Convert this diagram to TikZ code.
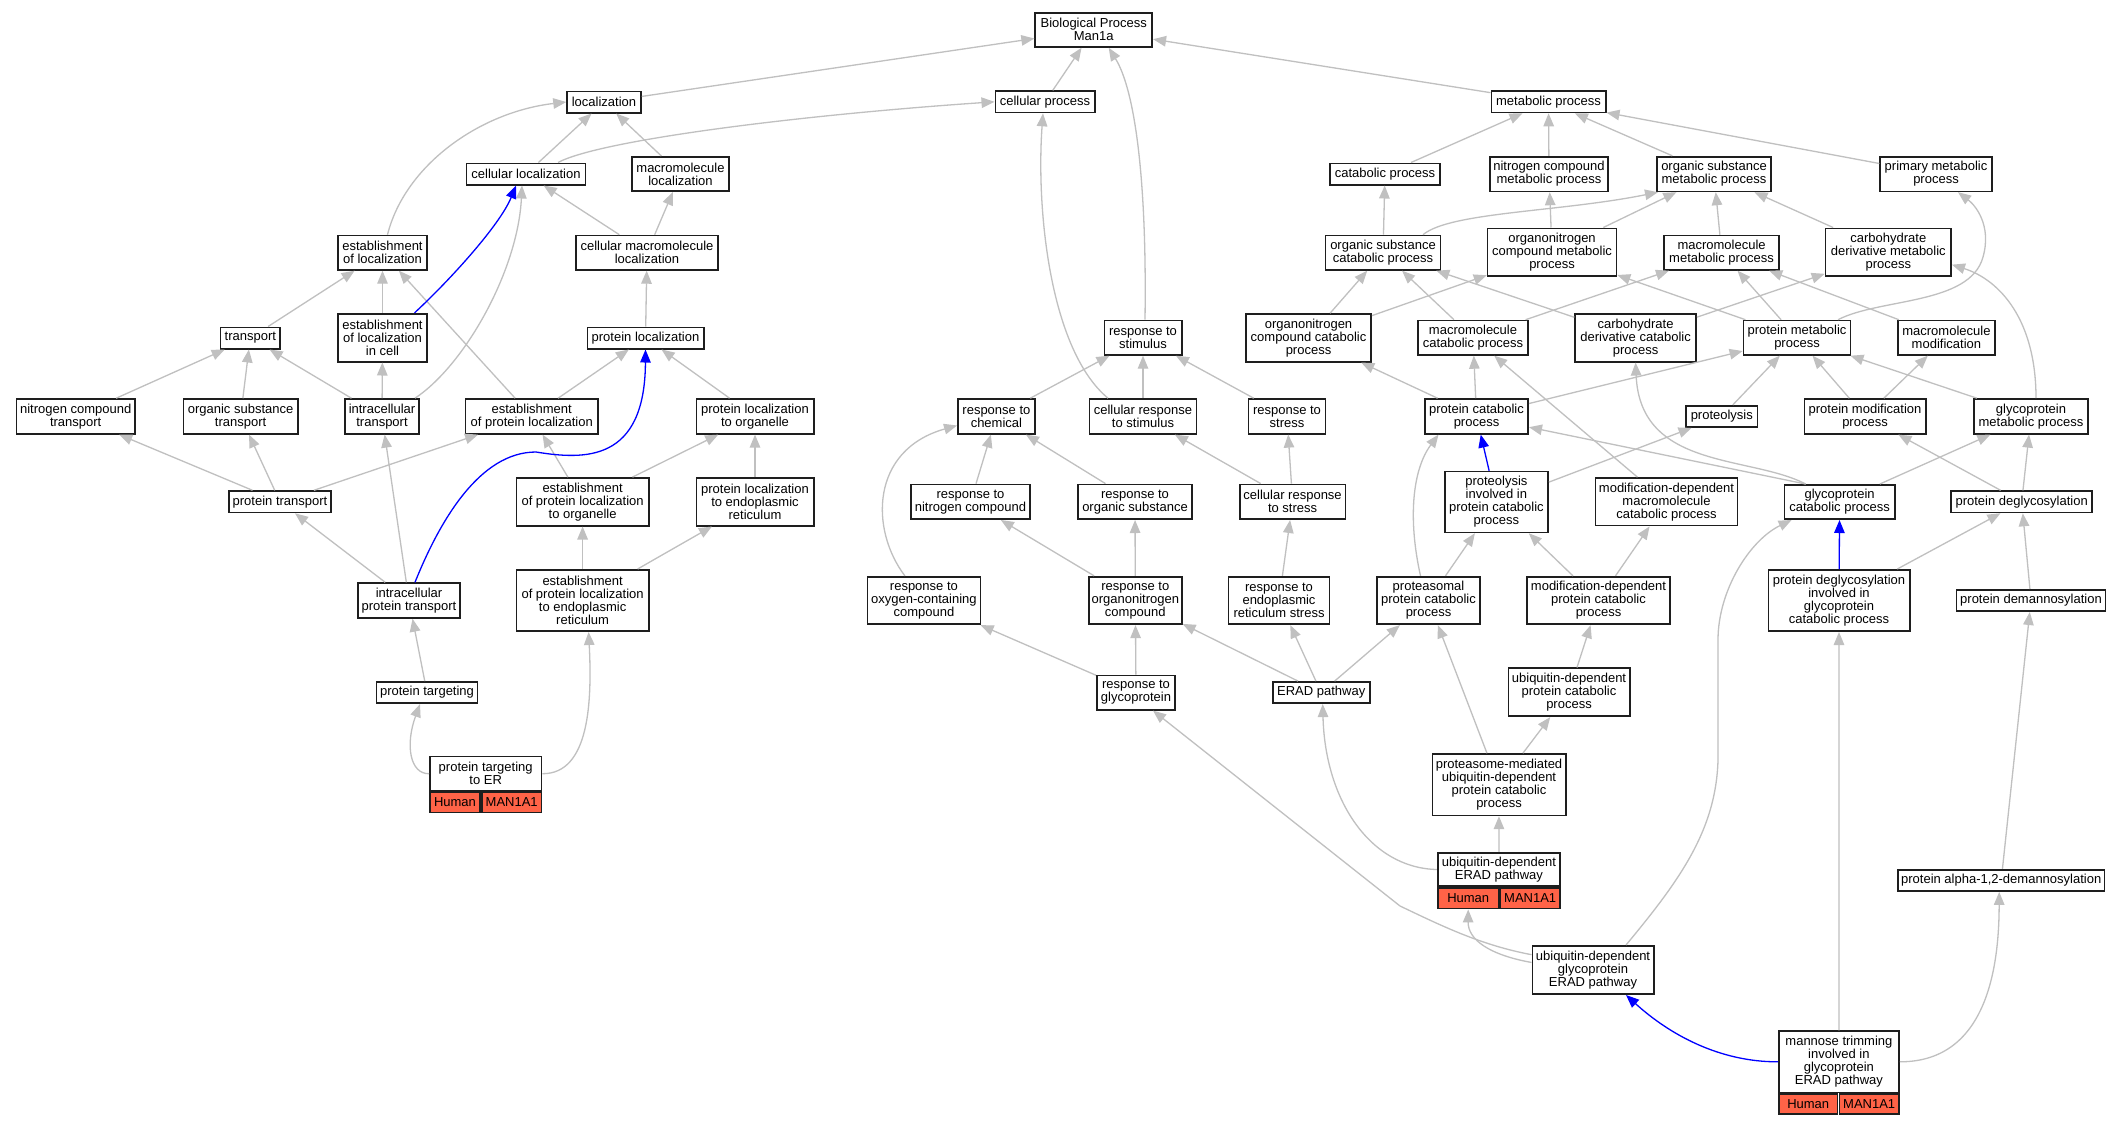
\documentclass[tikz,border=0pt]{standalone}
\usepackage{fontspec}
\setmainfont{Liberation Sans}
\usetikzlibrary{arrows.meta}
\definecolor{edgegray}{RGB}{192,192,192}
\definecolor{cellred}{RGB}{255,99,71}
\definecolor{boxline}{RGB}{30,30,30}
\newcommand\gn[6]{\node[gobox,minimum width={#4pt-1.7pt},minimum height={#5pt-1.7pt}] (#1) at (#2,#3) {#6};}
\newcommand\gc[6]{\node[gcell,minimum width={#4pt-1.7pt},minimum height={#5pt-1.7pt}] (#1) at (#2,#3) {#6};}
\begin{document}
\begin{tikzpicture}[x=1pt,y=-1pt,
  gobox/.style={draw=boxline,line width=1.7pt,fill=white,inner sep=0pt,align=center,font=\fontsize{13pt}{13pt}\selectfont},
  gcell/.style={gobox,fill=cellred},
  gedge/.style={draw=edgegray,line width=1.3pt,-{Triangle[length=13pt,width=10.5pt]}},
  bedge/.style={draw=blue,line width=1.3pt,-{Triangle[length=13pt,width=10.5pt]}}]
\fill[white] (0,0) rectangle (2123,1125);
\useasboundingbox (0,0) rectangle (2123,1125);
% ---- nodes ----
\gn{bp}{1093.7}{29.8}{118.7}{36}{Biological Process\\Man1a}
\gn{loc}{604}{102}{75.5}{23}{localization}
\gn{cproc}{1045}{101.8}{101}{23}{cellular process}
\gn{mproc}{1548.5}{101.8}{116}{23}{metabolic process}
\gn{cloc}{526}{174}{120.6}{23}{cellular localization}
\gn{mloc}{680.5}{174}{99}{36}{macromolecule\\localization}
\gn{catp}{1385}{174}{112}{23}{catabolic process}
\gn{ncmp}{1549}{174}{120.3}{36.4}{nitrogen compound\\metabolic process}
\gn{osmp}{1714}{174}{116}{36.4}{organic substance\\metabolic process}
\gn{pmet}{1936}{174}{113.4}{36.4}{primary metabolic\\process}
\gn{eloc}{382.5}{252.7}{91}{36}{establishment\\of localization}
\gn{cmloc}{647}{252.7}{143.5}{36}{cellular macromolecule\\localization}
\gn{oscp}{1383}{252.7}{116.5}{36}{organic substance\\catabolic process}
\gn{oncmp}{1552}{252.3}{130.5}{49.6}{organonitrogen\\compound metabolic\\process}
\gn{mmp}{1721.6}{252.7}{116.6}{36}{macromolecule\\metabolic process}
\gn{cdmp}{1888.3}{252.3}{127.3}{49.6}{carbohydrate\\derivative metabolic\\process}
\gn{transport}{250.3}{338}{61.4}{23}{transport}
\gn{elic}{382.5}{337.7}{91}{49.6}{establishment\\of localization\\in cell}
\gn{ploc}{645.5}{338}{118}{23}{protein localization}
\gn{rstim}{1143}{337.7}{79}{36}{response to\\stimulus}
\gn{onccp}{1308.5}{337.9}{127}{49.3}{organonitrogen\\compound catabolic\\process}
\gn{mcp}{1473}{337.7}{112}{36}{macromolecule\\catabolic process}
\gn{cdcp}{1635.6}{337.9}{122.6}{49.3}{carbohydrate\\derivative catabolic\\process}
\gn{protmp}{1797}{337.7}{108.8}{36}{protein metabolic\\process}
\gn{mmod}{1946.4}{337.7}{98.7}{36}{macromolecule\\modification}
\gn{nct}{75.7}{416.4}{120}{36.4}{nitrogen compound\\transport}
\gn{ost}{240.6}{416.4}{116}{36.4}{organic substance\\transport}
\gn{itr}{382}{416.4}{76}{36.4}{intracellular\\transport}
\gn{epl}{531.7}{416.4}{134}{36.4}{establishment\\of protein localization}
\gn{plo}{755}{416.4}{119}{36.4}{protein localization\\to organelle}
\gn{rchem}{996.4}{416.4}{78.7}{36.4}{response to\\chemical}
\gn{crstim}{1143}{416.4}{108.5}{36.4}{cellular response\\to stimulus}
\gn{rstress}{1287}{416.4}{78.5}{36.4}{response to\\stress}
\gn{pcp}{1476.5}{416.4}{105}{36.4}{protein catabolic\\process}
\gn{prot}{1721.8}{416.4}{72.8}{23}{proteolysis}
\gn{pmodp}{1865}{416.4}{123}{36.4}{protein modification\\process}
\gn{gmp}{2031}{416.4}{115.7}{36.4}{glycoprotein\\metabolic process}
\gn{ptr}{280}{501.8}{104.3}{23}{protein transport}
\gn{eplo}{582.6}{501.8}{134}{49.4}{establishment\\of protein localization\\to organelle}
\gn{pler}{755}{501.8}{119}{49.4}{protein localization\\to endoplasmic\\reticulum}
\gn{rnc}{970.5}{501.8}{120.5}{36.4}{response to\\nitrogen compound}
\gn{ros}{1135}{501.8}{116}{36.4}{response to\\organic substance}
\gn{crstress}{1292.6}{501.8}{107.6}{36.4}{cellular response\\to stress}
\gn{pipcp}{1496.4}{502}{105}{62.5}{proteolysis\\involved in\\protein catabolic\\process}
\gn{mdmcp}{1666.5}{501.8}{143.8}{49.3}{modification-dependent\\macromolecule\\catabolic process}
\gn{gcp}{1839.6}{502}{112}{36}{glycoprotein\\catabolic process}
\gn{pdg}{2021.7}{501.8}{142.5}{23}{protein deglycosylation}
\gn{ipt}{409}{600.5}{104}{36.4}{intracellular\\protein transport}
\gn{epler}{582.6}{600.5}{134}{63}{establishment\\of protein localization\\to endoplasmic\\reticulum}
\gn{roc}{923.9}{600.5}{114.8}{49.3}{response to\\oxygen-containing\\compound}
\gn{ron}{1135.3}{600.5}{94.6}{49.3}{response to\\organonitrogen\\compound}
\gn{rers}{1279}{600.5}{102.7}{49.3}{response to\\endoplasmic\\reticulum stress}
\gn{ppcp}{1428.5}{600.5}{105}{49.3}{proteasomal\\protein catabolic\\process}
\gn{mdpcp}{1598.5}{600.5}{144.3}{49.3}{modification-dependent\\protein catabolic\\process}
\gn{pdgi}{1839}{600.5}{143}{63}{protein deglycosylation\\involved in\\glycoprotein\\catabolic process}
\gn{pdm}{2031}{600.5}{150.7}{23}{protein demannosylation}
\gn{ptg}{427}{692.6}{102.6}{23}{protein targeting}
\gn{rgp}{1136}{692.6}{80}{36}{response to\\glycoprotein}
\gn{erad}{1321.2}{692.6}{98.6}{23}{ERAD pathway}
\gn{udpcp}{1569}{692.3}{123}{49.7}{ubiquitin-dependent\\protein catabolic\\process}
\gn{pter}{485.7}{773.7}{113.4}{36}{protein targeting\\to ER}
\gc{pterH}{455}{802.5}{52}{21.6}{Human}
\gc{pterM}{511.7}{802.5}{61.4}{21.6}{MAN1A1}
\gn{pmud}{1499}{784.7}{135}{63}{proteasome-mediated\\ubiquitin-dependent\\protein catabolic\\process}
\gn{uderad}{1498.9}{869.5}{124}{35.3}{ubiquitin-dependent\\ERAD pathway}
\gc{uderadH}{1468.2}{898.3}{62.7}{22.3}{Human}
\gc{uderadM}{1530.2}{898.3}{61.3}{22.3}{MAN1A1}
\gn{pa12}{2001.2}{880.4}{208.4}{23}{protein alpha-1,2-demannosylation}
\gn{udgerad}{1593}{970}{123}{50}{ubiquitin-dependent\\glycoprotein\\ERAD pathway}
\gn{mt}{1838.9}{1061.8}{121.8}{63}{mannose trimming\\involved in\\glycoprotein\\ERAD pathway}
\gc{mtH}{1808.2}{1104.2}{60.5}{21.7}{Human}
\gc{mtM}{1869.2}{1104.2}{61.3}{21.7}{MAN1A1}
% ---- straight edges ----
\foreach \a/\b in {loc/bp,cproc/bp,mproc/bp,
  cloc/loc,mloc/loc,cmloc/cloc,cmloc/mloc,transport/eloc,elic/eloc,epl/eloc,ploc/cmloc,
  nct/transport,ost/transport,itr/transport,itr/elic,epl/ploc,plo/ploc,ptr/nct,ptr/ost,ptr/epl,
  eplo/epl,ipt/itr,ipt/ptr,eplo/plo,pler/plo,epler/eplo,epler/pler,ptg/ipt,
  rchem/rstim,crstim/rstim,rstress/rstim,rnc/rchem,ros/rchem,crstress/crstim,crstress/rstress,
  ron/rnc,ron/ros,rers/crstress,rgp/roc,rgp/ron,erad/ron,erad/rers,erad/ppcp,
  catp/mproc,ncmp/mproc,osmp/mproc,pmet/mproc,oscp/catp,oncmp/ncmp,oncmp/osmp,mmp/osmp,cdmp/osmp,
  onccp/oscp,mcp/oscp,cdcp/oscp,onccp/oncmp,protmp/oncmp,mcp/mmp,protmp/mmp,mmod/mmp,cdcp/cdmp,
  pcp/mcp,mdmcp/mcp,pcp/onccp,pcp/protmp,prot/protmp,pmodp/protmp,gmp/protmp,pmodp/mmod,
  pipcp/prot,pdg/pmodp,gcp/gmp,pdg/gmp,ppcp/pipcp,mdpcp/pipcp,mdpcp/mdmcp,pdgi/pdg,pdm/pdg,
  pmud/ppcp,udpcp/mdpcp,pmud/udpcp,uderad/pmud,mt/pdgi,pa12/pdm}
  \draw[gedge] (\a) -- (\b);
\draw[bedge] (pipcp) -- (pcp);
\draw[bedge] (pdgi) -- (gcp);
\draw[gedge] ([xshift=-34pt]gcp.north) -- (pcp);
% ---- curved edges ----
\draw[gedge] ([xshift=5pt]eloc.north) .. controls (405,165) and (480,112) .. (loc.west);
\draw[gedge] ([xshift=32pt]cloc.north) .. controls (600,140) and (800,115) .. (cproc.west);
\draw[gedge] ([xshift=-5pt]itr.north east) .. controls (465,365) and (518,270) .. ([xshift=-4pt]cloc.south);
\draw[bedge] ([xshift=32pt]elic.north) .. controls (450,280) and (500,225) .. ([xshift=-10pt]cloc.south);
\draw[bedge] ([xshift=6pt]ipt.north) .. controls (440,520) and (480,452) .. (536,452) .. controls (585,460) and (645,462) .. (ploc.south);
\draw[gedge] ([xshift=-35pt]crstim.north) .. controls (1050,350) and (1036,210) .. ([xshift=-2pt]cproc.south);
\draw[gedge] ([xshift=2pt]rstim.north) .. controls (1147,180) and (1135,90) .. ([xshift=15pt]bp.south);
\draw[gedge] ([xshift=-19pt]roc.north) .. controls (870,530) and (870,450) .. (rchem.193);
\draw[gedge] (uderad.west) .. controls (1370,868) and (1325,800) .. ([xshift=1.5pt]erad.south);
\draw[gedge] (udgerad.166) .. controls (1480,945) and (1440,925) .. (1400,906) -- ([xshift=17pt]rgp.south);
\draw[gedge] ([xshift=33pt]udgerad.north) .. controls (1680,880) and (1716,830) .. (1718,760) -- (1718,640) .. controls (1718,590) and (1750,540) .. ([xshift=8pt]gcp.south west);
\draw[gedge] ([xshift=-8pt]ppcp.north) .. controls (1408,520) and (1412,470) .. ([xshift=-38pt]pcp.south);
\draw[gedge] ([xshift=-34pt]gcp.north) .. controls (1750,455) and (1640,470) .. (cdcp.south);
\draw[gedge] ([xshift=5pt]gmp.north) .. controls (2036,320) and (2000,280) .. (cdmp.349);
\draw[gedge] ([xshift=41pt]protmp.north) .. controls (1880,298) and (1970,305) .. (1983,257) .. controls (1992,225) and (1975,205) .. ([xshift=22pt]pmet.south);
\draw[gedge] ([xshift=40pt]oscp.north) .. controls (1450,212) and (1560,212) .. ([xshift=-56pt]osmp.south);
\draw[gedge] (pter.west) .. controls (410,774) and (405,745) .. ([xshift=-7pt]ptg.south);
\draw[gedge] (pter.east) .. controls (590,774) and (592,700) .. ([xshift=6pt]epler.south);
\draw[gedge] (mt.east) .. controls (1990,1062) and (1999,960) .. ([xshift=-2pt]pa12.south);
\draw[bedge] (mt.west) .. controls (1720,1062) and (1670,1035) .. ([xshift=33pt]udgerad.south);
\draw[gedge] (udgerad.173) .. controls (1490,955) and (1468,940) .. (uderadH.south);
\end{tikzpicture}
\end{document}
